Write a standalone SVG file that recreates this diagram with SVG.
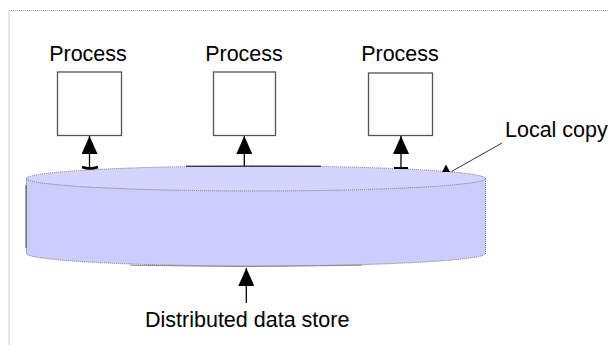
<svg xmlns="http://www.w3.org/2000/svg" width="608" height="345" viewBox="0 0 608 345">
<style>
text{font-family:"Liberation Sans",Arial,sans-serif;font-size:21.5px;fill:#000}
.box{fill:#fff;stroke:#555;stroke-width:1.3}
.conn{stroke:#000;stroke-width:1.3;fill:none}
.edge{stroke:#777;stroke-width:1;stroke-dasharray:1 1;fill:none}
</style>
<defs>
<marker id="ah" viewBox="0 0 18 16" refX="0" refY="8" markerWidth="18" markerHeight="16" markerUnits="userSpaceOnUse" orient="auto">
<path d="M0 8 L18 0 L18 16 Z" fill="#000"/>
</marker>
</defs>
<rect width="608" height="345" fill="#fff"/>
<rect x="9" y="10.5" width="640" height="360" fill="none" stroke="#999" stroke-width="1" stroke-dasharray="1 1"/>
<g id="store">
<path d="M26.5 178.5 L26.5 253.5 A229.5 12.5 0 0 0 485.5 253.5 L485.5 178.5 Z" fill="#ccccff"/>
<ellipse cx="256" cy="178.5" rx="229.5" ry="12.5" fill="#d4d4ff"/>
<ellipse cx="256" cy="178.5" rx="229.5" ry="12.5" class="edge"/>
<path d="M26.5 178.5 L26.5 253.5 A229.5 12.5 0 0 0 485.5 253.5 L485.5 178.5" class="edge"/>
<line x1="26" y1="185" x2="26" y2="248" stroke="#444" stroke-width="1"/>
<path d="M130 265.2 Q246 268 362 265.2" stroke="#888" stroke-width="1" fill="none"/>
<line x1="186" y1="166.2" x2="321" y2="166.2" stroke="#000" stroke-width="1"/>
</g>
<g id="process1">
<rect x="57.5" y="72" width="64" height="63.5" class="box"/>
<text x="88" y="61" text-anchor="middle">Process</text>
</g>
<g id="process2">
<rect x="213.5" y="72" width="62" height="63.5" class="box"/>
<text x="244" y="61" text-anchor="middle">Process</text>
</g>
<g id="process3">
<rect x="368.5" y="73" width="64" height="62.5" class="box"/>
<text x="400" y="61" text-anchor="middle">Process</text>
</g>
<g id="local-copy">
<text x="505" y="137">Local copy</text>
</g>
<g id="label-store">
<text x="145" y="327">Distributed data store</text>
</g>
<g id="connectors">
<line x1="89.5" y1="136" x2="89.5" y2="168" class="conn" marker-start="url(#ah)"/>
<path d="M82 167 Q90 170 98 167" stroke="#000" stroke-width="2.5" fill="none"/>
<line x1="244.3" y1="136" x2="244.3" y2="166" class="conn" marker-start="url(#ah)"/>
<line x1="401" y1="136" x2="401" y2="168" class="conn" marker-start="url(#ah)"/>
<line x1="394" y1="168" x2="408" y2="168" stroke="#000" stroke-width="2"/>
<line x1="246.3" y1="268" x2="246.3" y2="303" class="conn" marker-start="url(#ah)"/>
<line x1="502" y1="143" x2="451.5" y2="171.5" stroke="#333" stroke-width="1"/>
<path d="M446 164.5 L442 172 L450 172 Z" fill="#000"/>
</g>
</svg>
